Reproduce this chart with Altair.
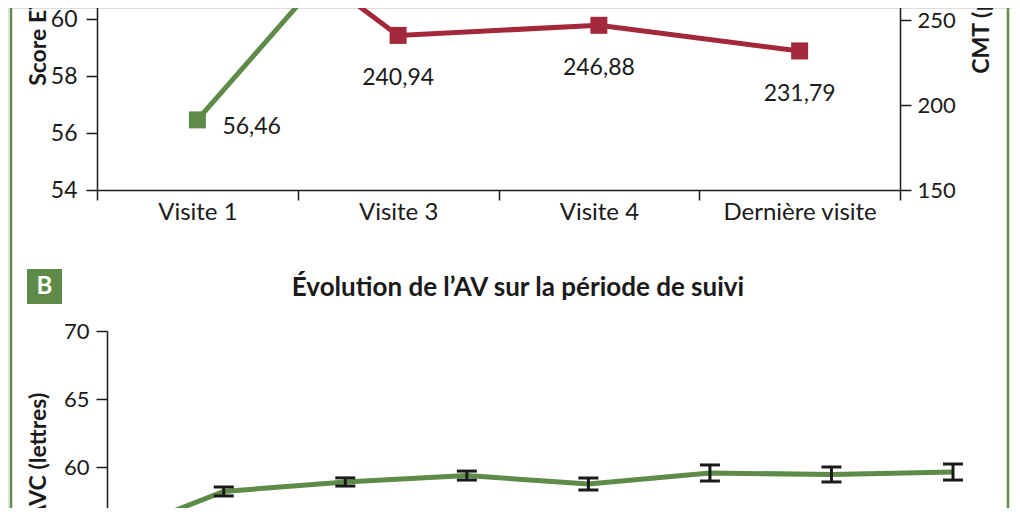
import altair as alt
import pandas as pd

# ---------------- data ----------------
visits = ["Visite 1", "Visite 3", "Visite 4", "Dernière visite"]
etdrs = [56.46, 64.5, 64.8, 63.9]          # Score ETDRS (left axis)
cmt = [329.0, 240.94, 246.88, 231.79]       # CMT (µm) (right axis)

months = [0, 1, 3, 5, 7, 9, 11, 13]
avc = [56.46, 58.2, 58.9, 59.37, 58.75, 59.56, 59.45, 59.63]
avc_err = [0.40, 0.33, 0.30, 0.33, 0.44, 0.59, 0.55, 0.59]

etdrs_ticks = [54, 56, 58, 60, 62, 64, 66]
cmt_ticks = [150, 200, 250, 300, 350]
avc_ticks = [50, 55, 60, 65, 70]

title_b = "Évolution de l’AV sur la période de suivi"

GREEN = "#5e8b47"
RED = "#a4283b"
INK = "#1a1a1a"
FONT = "Lato"
W, H = 1004, 500


def fmt(v):
    return f"{v:.2f}".replace(".", ",")


top_df = pd.DataFrame({
    "visit": visits,
    "etdrs": etdrs,
    "cmt": cmt,
    "etdrs_lbl": [fmt(v) for v in etdrs],
    "cmt_lbl": [fmt(v) for v in cmt],
})
bot_df = pd.DataFrame({
    "m": months,
    "avc": avc,
    "lo": [a - e for a, e in zip(avc, avc_err)],
    "hi": [a + e for a, e in zip(avc, avc_err)],
})
one = pd.DataFrame({"t": [title_b], "b": ["B"]})

# ---------------- top panel ----------------
x_top = alt.X(
    "visit:N",
    sort=visits,
    bandPosition=0.5,
    scale=alt.Scale(type="band", domain=visits, range=[89, 892], paddingInner=0, paddingOuter=0),
    axis=alt.Axis(
        orient="bottom", offset=182 - H, title=None, tickBand="extent",
        tickSize=10, tickWidth=1.5, tickColor=INK, domainColor=INK, domainWidth=1.5,
        labelFont=FONT, labelFontSize=24, labelColor=INK, labelPadding=0, labelAngle=0,
    ),
)

y_green = alt.Y(
    "etdrs:Q",
    scale=alt.Scale(domain=[54, 66], range=[182, -160], nice=False, zero=False),
    axis=alt.Axis(
        orient="left", offset=-89, values=etdrs_ticks, grid=False,
        tickSize=11, tickWidth=1.5, tickColor=INK, domainColor=INK, domainWidth=1.5,
        labelFont=FONT, labelFontSize=23, labelColor=INK, labelPadding=9,
        title="Score ETDRS", titleFont=FONT, titleFontSize=23, titleFontWeight="bold",
        titleColor=INK, titleX=-52, titleY=10, titleBaseline="alphabetic", titleAngle=270,
    ),
)
y_red = alt.Y(
    "cmt:Q",
    scale=alt.Scale(domain=[150, 350], range=[182, -158], nice=False, zero=False),
    axis=alt.Axis(
        orient="right", offset=892 - W, values=cmt_ticks, grid=False,
        tickSize=11, tickWidth=1.5, tickColor=INK, domainColor=INK, domainWidth=1.5,
        labelFont=FONT, labelFontSize=22, labelColor=INK, labelPadding=6,
        title="CMT (µm)", titleFont=FONT, titleFontSize=23, titleFontWeight="bold",
        titleColor=INK, titleX=88, titleY=14, titleBaseline="alphabetic", titleAngle=270,
    ),
)

gbase = alt.Chart(top_df).encode(x=x_top, y=y_green)
green = alt.layer(
    gbase.mark_line(color=GREEN, strokeWidth=5),
    gbase.mark_point(shape="square", filled=True, size=289, color=GREEN, opacity=1),
    gbase.mark_text(align="left", baseline="middle", dx=25, dy=7, font=FONT,
                    fontSize=23, color=INK).encode(text="etdrs_lbl:N"),
)
rbase = alt.Chart(top_df).encode(x=x_top, y=y_red)
red = alt.layer(
    rbase.mark_line(color=RED, strokeWidth=5),
    rbase.mark_point(shape="square", filled=True, size=289, color=RED, opacity=1),
    rbase.mark_text(align="center", baseline="middle", dy=43, font=FONT,
                    fontSize=23, color=INK).encode(text="cmt_lbl:N"),
)
top = alt.layer(green, red).resolve_scale(y="independent")

# ---------------- bottom panel ----------------
x_bot = alt.X("m:Q", scale=alt.Scale(domain=[0, 13], range=[155, 945], nice=False, zero=False), axis=None)
y_bot_scale = alt.Scale(domain=[50, 70], range=[595, 323], nice=False, zero=False)
y_bot = alt.Y(
    "avc:Q",
    scale=y_bot_scale,
    axis=alt.Axis(
        orient="left", offset=-99, values=avc_ticks, grid=False,
        tickSize=11, tickWidth=1.5, tickColor=INK, domainColor=INK, domainWidth=1.5,
        labelFont=FONT, labelFontSize=22, labelColor=INK, labelPadding=7,
        title="MAVC (lettres)", titleFont=FONT, titleFontSize=23, titleFontWeight="bold",
        titleColor=INK, titleX=-62, titleBaseline="alphabetic", titleAngle=270,
    ),
)
bbase = alt.Chart(bot_df).encode(x=x_bot)
bottom = alt.layer(
    bbase.mark_line(color=GREEN, strokeWidth=5).encode(y=y_bot),
    bbase.mark_rule(color=INK, strokeWidth=3).encode(y=alt.Y("lo:Q"), y2="hi:Q"),
    bbase.mark_tick(orient="horizontal", size=20, thickness=3, color=INK, opacity=1).encode(y=alt.Y("lo:Q")),
    bbase.mark_tick(orient="horizontal", size=20, thickness=3, color=INK, opacity=1).encode(y=alt.Y("hi:Q")),
)

# ---------------- decorations ----------------
deco = alt.Chart(one)
borders = alt.layer(
    deco.mark_rule(color=GREEN, strokeWidth=2.5).encode(x=alt.value(3), y=alt.value(-20), y2=alt.value(H + 20)),
    deco.mark_rule(color=GREEN, strokeWidth=2.5).encode(x=alt.value(1000), y=alt.value(-20), y2=alt.value(H + 20)),
)
badge = alt.layer(
    deco.mark_rect(color=GREEN).encode(x=alt.value(19), x2=alt.value(54), y=alt.value(261), y2=alt.value(296)),
    deco.mark_text(font=FONT, fontSize=24, fontWeight="bold", color="white",
                   align="center", baseline="middle").encode(x=alt.value(36.5), y=alt.value(279), text="b:N"),
    deco.mark_text(font=FONT, fontSize=26, fontWeight="bold", color=INK,
                   align="center", baseline="alphabetic").encode(x=alt.value(510), y=alt.value(288), text="t:N"),
)

chart = (
    alt.layer(top, bottom, borders, badge)
    .resolve_scale(x="independent", y="independent")
    .properties(width=W, height=H, autosize=alt.AutoSizeParams(type="none"), padding=0)
    .configure_view(stroke=None)
    .configure(background="white")
)

chart.save("out.html", embed_options={"renderer": "svg", "actions": False})
